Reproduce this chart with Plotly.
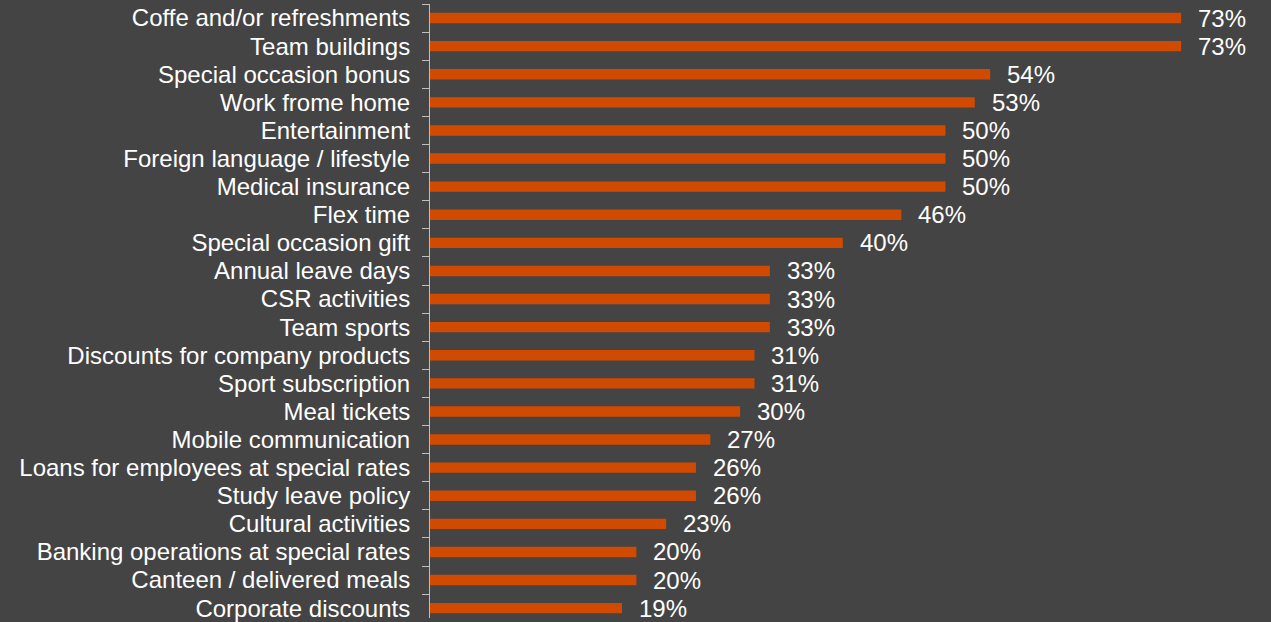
import plotly.graph_objects as go

categories = [
    "Coffe and/or refreshments", "Team buildings", "Special occasion bonus",
    "Work frome home", "Entertainment", "Foreign language / lifestyle",
    "Medical insurance", "Flex time", "Special occasion gift",
    "Annual leave days", "CSR activities", "Team sports",
    "Discounts for company products", "Sport subscription", "Meal tickets",
    "Mobile communication", "Loans for employees at special rates",
    "Study leave policy", "Cultural activities",
    "Banking operations at special rates", "Canteen / delivered meals",
    "Corporate discounts",
]
values = [73.15, 73.15, 54.55, 53.05, 50.2, 50.2, 50.2, 45.9, 40.2, 33.1, 33.1, 33.1,
          31.6, 31.6, 30.2, 27.3, 25.9, 25.9, 23.0, 20.1, 20.1, 18.7]
labels = ["73%", "73%", "54%", "53%", "50%", "50%", "50%", "46%", "40%", "33%",
          "33%", "33%", "31%", "31%", "30%", "27%", "26%", "26%", "23%", "20%",
          "20%", "19%"]

BG = "#444444"
BAR = "#D04A02"
FONT = "Liberation Sans, Arial, sans-serif"

pos = list(range(len(categories)))

fig = go.Figure(go.Bar(
    x=values, y=pos, orientation="h",
    marker=dict(color=BAR, line=dict(width=0)),
    hoverinfo="skip",
))

for p, v, t in zip(pos, values, labels):
    fig.add_annotation(x=v, y=p, text=t, showarrow=False, xanchor="left",
                       xshift=15, font=dict(color="#FFFFFF", size=24, family=FONT))

fig.update_layout(
    width=1271, height=622,
    paper_bgcolor=BG, plot_bgcolor=BG,
    margin=dict(l=430, r=0, t=4, b=0),
    bargap=0.63,
    showlegend=False,
    font=dict(family=FONT, color="#FFFFFF", size=24),
    xaxis=dict(range=[0, 81.9], visible=False, showgrid=False, zeroline=False),
    yaxis=dict(
        range=[21.35, -0.5], showgrid=False, zeroline=False,
        tickmode="array", tickvals=pos, ticktext=categories,
        showline=True, linecolor="#BFBFBF", linewidth=1,
        ticks="", ticklabelstandoff=14, ticklabeloverflow="allow",
        minor=dict(tick0=0.5, dtick=1, ticks="outside", ticklen=7,
                   tickcolor="#BFBFBF", tickwidth=1, showgrid=False),
        tickfont=dict(size=24, color="#FFFFFF", family=FONT),
    ),
)

fig.write_html(
    "out.html",
    config={"displayModeBar": False, "staticPlot": True},
    post_script="document.body.style.margin='0';document.body.style.background='#444444';",
)
